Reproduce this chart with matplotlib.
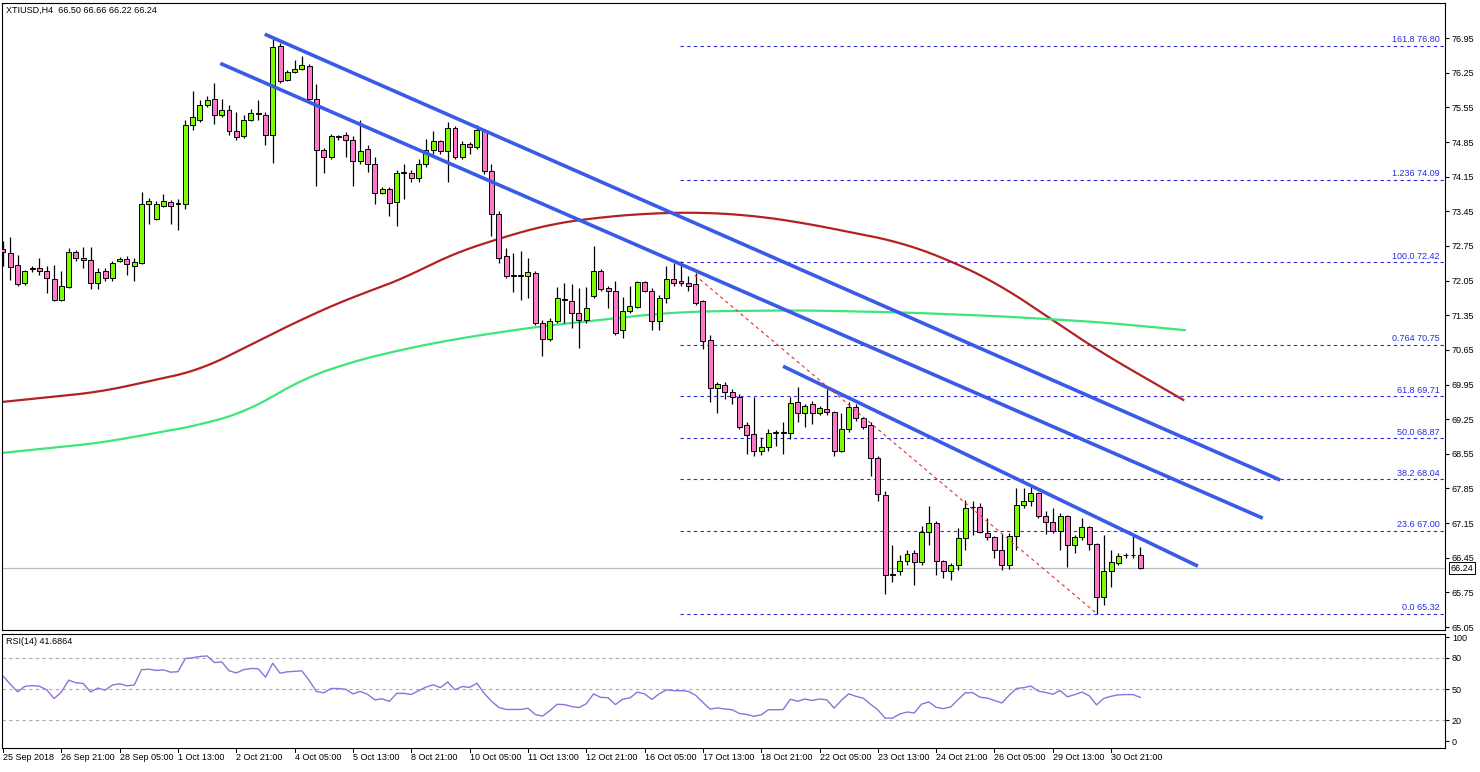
import matplotlib
matplotlib.use("Agg")
import matplotlib.pyplot as plt
import matplotlib.transforms as mtransforms
import numpy as np

plt.rcParams['font.family'] = ['Liberation Sans', 'DejaVu Sans']

# ---- data ----
opens = [72.68,72.6,72.36,72.0,72.28,72.3,72.24,72.08,71.66,71.92,72.63,72.5,72.46,72.0,72.24,72.1,72.44,72.48,72.35,72.4,
         73.6,73.3,73.56,73.64,73.6,73.6,75.2,75.3,75.6,75.72,75.4,75.5,75.07,74.98,75.3,75.42,75.4,75.0,76.8,76.1,
         76.27,76.33,76.38,75.72,74.68,74.55,74.96,75.0,74.9,74.47,74.7,74.4,73.82,73.9,73.63,74.22,74.22,74.12,74.4,74.68,
         74.87,74.67,75.13,74.55,74.82,74.75,75.1,74.27,73.4,72.55,72.14,72.14,72.14,72.2,71.2,70.87,71.23,71.66,71.63,71.4,
         71.25,71.73,72.25,71.9,71.85,71.05,71.43,71.52,72.02,71.85,71.23,71.7,72.08,72.05,72.0,71.98,71.63,70.85,69.88,69.95,
         69.8,69.7,69.13,68.95,68.6,68.68,68.97,68.98,68.98,69.6,69.38,69.55,69.38,69.45,69.4,68.6,69.05,69.5,69.27,69.13,
         68.47,67.72,66.1,66.18,66.38,66.55,66.36,66.98,67.15,66.38,66.18,66.3,66.85,67.47,67.47,66.95,66.87,66.6,66.3,66.88,
         67.52,67.6,67.75,67.3,67.17,67.0,67.3,66.7,66.86,67.07,66.72,65.66,66.18,66.35,66.5,66.5,66.5]
highs = [72.85,72.93,72.57,72.27,72.35,72.5,72.34,72.37,72.25,72.7,72.66,72.73,72.72,72.3,72.3,72.45,72.52,72.55,72.5,73.85,
         73.72,73.65,73.8,73.68,73.7,75.3,75.88,75.7,75.78,76.05,75.72,75.6,75.45,75.4,75.52,75.7,75.45,76.95,76.85,76.3,
         76.5,76.58,76.42,76.02,74.72,75.02,75.0,75.05,74.98,75.3,74.8,74.55,73.95,73.95,74.28,74.4,74.28,74.5,74.92,75.07,
         74.9,75.25,75.18,74.88,74.85,75.2,75.12,74.4,73.45,72.7,72.6,72.65,72.5,72.25,71.25,71.3,71.92,72.0,71.98,71.9,
         71.92,72.75,72.28,71.95,72.05,71.72,71.95,72.05,72.05,71.9,71.75,72.35,72.4,72.45,72.15,72.2,71.65,70.95,70.0,70.0,
         69.85,69.75,69.2,69.7,68.9,69.05,69.03,69.2,69.7,69.9,69.55,69.62,69.52,69.85,69.42,69.38,69.6,69.55,69.3,69.2,
         68.5,67.8,66.7,66.5,66.6,66.6,67.1,67.5,67.2,66.4,66.35,67.05,67.62,67.6,67.55,67.25,66.88,66.92,66.95,67.86,
         67.85,67.9,67.78,67.4,67.45,67.35,67.32,66.9,67.25,67.1,66.75,66.9,66.6,66.55,66.55,66.9,66.66]
lows = [72.35,72.06,71.95,71.97,72.22,72.16,71.8,71.64,71.63,71.9,72.45,72.3,71.88,71.88,72.05,72.05,72.42,72.16,72.04,72.38,
        73.2,73.28,73.54,73.2,73.07,73.5,75.1,75.25,75.55,75.22,75.35,75.0,74.9,74.93,75.28,75.3,74.8,74.43,76.05,76.08,
        76.25,76.3,75.7,73.96,74.22,74.5,74.9,74.55,73.96,74.4,74.25,73.6,73.8,73.36,73.15,73.7,74.05,74.05,74.35,74.6,
        74.6,74.04,74.5,74.5,74.6,74.7,74.2,72.95,72.4,72.1,71.82,71.65,71.7,71.15,70.53,70.83,71.2,71.2,71.1,70.69,
        71.2,71.7,71.85,71.5,70.95,70.9,71.4,71.5,71.82,71.05,71.05,71.6,71.95,71.95,71.85,71.55,70.67,69.6,69.37,69.65,
        69.55,69.05,68.55,68.5,68.53,68.6,68.7,68.55,68.85,69.2,69.1,69.15,69.33,69.33,68.5,68.58,69.0,69.22,69.05,68.1,
        67.6,65.72,65.95,66.1,66.3,65.9,66.3,66.7,66.1,66.05,66.0,66.2,66.6,66.9,66.95,66.8,66.45,66.2,66.22,66.6,
        67.45,67.5,67.25,66.92,66.95,66.6,66.27,66.55,66.8,66.6,65.32,65.5,65.85,66.3,66.45,66.45,66.22]
closes = [72.62,72.32,71.98,72.24,72.28,72.25,72.1,71.66,71.94,72.63,72.5,72.46,72.0,72.22,72.1,72.4,72.48,72.38,72.42,73.6,
          73.66,73.6,73.66,73.56,73.6,75.2,75.35,75.6,75.7,75.4,75.5,75.07,74.95,75.3,75.43,75.42,75.0,76.77,76.08,76.27,
          76.33,76.4,75.72,74.68,74.55,74.97,74.96,74.9,74.47,74.67,74.4,73.82,73.9,73.62,74.22,74.22,74.12,74.4,74.68,74.87,
          74.67,75.13,74.55,74.82,74.75,75.1,74.27,73.4,72.5,72.14,72.14,72.14,72.22,71.2,70.87,71.23,71.7,71.66,71.4,71.25,
          71.5,72.25,71.88,71.84,71.0,71.43,71.53,72.02,71.85,71.23,71.7,72.08,72.0,72.0,71.94,71.6,70.83,69.88,69.97,69.8,
          69.7,69.1,68.93,68.6,68.68,68.98,68.97,68.98,69.58,69.38,69.52,69.38,69.47,69.4,68.6,69.05,69.5,69.27,69.1,68.47,
          67.74,66.1,66.1,66.38,66.52,66.36,66.98,67.15,66.38,66.18,66.3,66.85,67.45,67.47,66.97,66.87,66.6,66.3,66.88,67.52,
          67.6,67.75,67.3,67.17,67.0,67.3,66.7,66.86,67.07,66.72,65.66,66.18,66.36,66.48,66.5,66.5,66.24]

ma_red_idx = [0,13.3,27,40.7,47.6,54.5,61.3,68.2,75,81.9,88.7,95.6,102.5,109.3,116.2,123,129.9,136.8,143.6,150.5,161.9]
ma_red_val = [69.6,69.8,70.24,71.25,71.7,72.06,72.57,72.91,73.19,73.33,73.41,73.43,73.37,73.23,73.03,72.83,72.46,71.96,71.29,70.61,69.64]
ma_green_idx = [0,13.3,27,33.9,40.7,47.6,54.5,61.3,68.2,75,81.9,88.7,95.6,109.3,123,136.8,150.5,162.1]
ma_green_val = [68.57,68.77,69.13,69.43,70.04,70.4,70.65,70.85,71.01,71.15,71.25,71.37,71.43,71.45,71.41,71.33,71.21,71.05]

trend_blue = [((35.9, 77.03), (175.2, 68.02)),
              ((29.8, 76.44), (172.8, 67.25)),
              ((107.0, 70.32), (163.9, 66.28))]
trend_red = ((94.9, 72.16), (149.8, 65.35))

fib_labels = ["161.8", "1.236", "100.0", "0.764", "61.8", "50.0", "38.2", "23.6", "0.0"]
fib_levels = [76.80, 74.09, 72.42, 70.75, 69.71, 68.87, 68.04, 67.00, 65.32]
fib_start = 92.9

price_ticks = [76.95, 76.25, 75.55, 74.85, 74.15, 73.45, 72.75, 72.05, 71.35, 70.65, 69.95, 69.25, 68.55, 67.85, 67.15, 66.45, 65.75, 65.05]
date_labels = ["25 Sep 2018", "26 Sep 21:00", "28 Sep 05:00", "1 Oct 13:00", "2 Oct 21:00", "4 Oct 05:00", "5 Oct 13:00",
               "8 Oct 21:00", "10 Oct 05:00", "11 Oct 13:00", "12 Oct 21:00", "16 Oct 05:00", "17 Oct 13:00", "18 Oct 21:00",
               "22 Oct 05:00", "23 Oct 13:00", "24 Oct 21:00", "26 Oct 05:00", "29 Oct 13:00", "30 Oct 21:00"]
bars_per_label = 8
last_price = 66.24
rsi_seed_gain, rsi_seed_loss = 0.10, 0.06   # Wilder averages before the visible window

# ---- RSI(14) from closes ----
c = np.array(closes)
d = np.diff(c)
gain = np.where(d > 0, d, 0.0); loss = np.where(d < 0, -d, 0.0)
ag, al = rsi_seed_gain, rsi_seed_loss
rsi = [100 - 100 / (1 + ag / al)]
for i in range(len(d)):
    ag = (ag * 13 + gain[i]) / 14; al = (al * 13 + loss[i]) / 14
    rsi.append(100 - 100 / (1 + ag / max(al, 1e-9)))
rsi = np.array(rsi)

def smooth_curve(xs, ys, k=9):
    gx = np.linspace(xs[0], xs[-1], 400)
    gy = np.interp(gx, xs, ys)
    pad = k
    gyp = np.concatenate([np.full(pad, gy[0]) + (gy[0] - gy[pad:0:-1]) * 0 + (gy[0]-gy[1:pad+1][::-1]) + gy[0] - gy[0], gy,
                          2*gy[-1] - gy[-2:-pad-2:-1]])
    ker = np.ones(2*k+1) / (2*k+1)
    sm = np.convolve(gyp, ker, mode="same")[pad:-pad]
    return gx, sm

# ---- figure ----
W, H = 1480, 772
fig = plt.figure(figsize=(W/100, H/100), dpi=100)
fig.patch.set_facecolor("white")
n = len(closes)
xmin, xmax = -0.14, 197.8
ax = fig.add_axes([2/W, 1-630/H, 1443/W, 627/H])
axr = fig.add_axes([2/W, 1-748/H, 1443/W, 114/H])
for a in (ax, axr):
    a.set_xlim(xmin, xmax)
    a.yaxis.tick_right()
    a.tick_params(axis='y', labelsize=6.5, length=3, pad=2, colors='black')
    a.set_xticks([])
    for s in a.spines.values():
        s.set_linewidth(0.8)
ax.set_ylim(64.99, 77.66)
ax.set_yticks(price_ticks)
ax.set_yticklabels([f"{v:.2f}" for v in price_ticks])

ax.axhline(last_price, color="#BBBBBB", lw=0.9, zorder=1)

for lab, lv in zip(fib_labels, fib_levels):
    ax.hlines(lv, fib_start, xmax, colors="#2A2AE0", linestyles=(0, (3, 3)), lw=0.8, zorder=1)
    ax.text(197.1, lv + 0.03, f"{lab} {lv:.2f}", ha="right", va="bottom", fontsize=6.5, color="#2A2AE0")

gx, gy = smooth_curve(ma_red_idx, ma_red_val)
ax.plot(gx, gy, color="#B22222", lw=1.6, zorder=2)
gx, gy = smooth_curve(ma_green_idx, ma_green_val)
ax.plot(gx, gy, color="#3CE67A", lw=1.6, zorder=2)

x = np.arange(n)
o = np.array(opens); hh = np.array(highs); ll = np.array(lows)
ax.vlines(x, ll, hh, color="black", lw=0.9, zorder=3)
up = c >= o
bw = 0.68
bottoms = np.minimum(o, c); heights = np.maximum(np.abs(c - o), 0.015)
ax.bar(x[up], heights[up], bw, bottoms[up], color="#7CFC00", edgecolor="black", lw=0.7, zorder=4)
ax.bar(x[~up], heights[~up], bw, bottoms[~up], color="#FF77C8", edgecolor="black", lw=0.7, zorder=4)

for (p1, p2) in trend_blue:
    ax.plot([p1[0], p2[0]], [p1[1], p2[1]], color="#3A5BE8", lw=2.6, zorder=5, solid_capstyle="butt")
ax.plot([trend_red[0][0], trend_red[1][0]], [trend_red[0][1], trend_red[1][1]], color="#E03030",
        lw=0.8, ls=(0, (3, 3)), zorder=5)

tr = mtransforms.blended_transform_factory(ax.transAxes, ax.transData)
ax.text(1.004, last_price, f"{last_price:.2f}", transform=tr, ha="left", va="center", fontsize=6.5,
        bbox=dict(boxstyle="square,pad=0.2", fc="white", ec="black", lw=0.7), zorder=6, clip_on=False)

ax.text(0.003, 0.995, "XTIUSD,H4  66.50 66.66 66.22 66.24", transform=ax.transAxes, ha="left", va="top", fontsize=6.5)

axr.set_ylim(-6.7, 102.9)
axr.set_yticks([100, 80, 50, 20, 0])
axr.set_yticklabels(["100", "80", "50", "20", "0"])
for lv in (80, 50, 20):
    axr.axhline(lv, color="#AAAAAA", lw=0.8, ls=(0, (3, 3)))
axr.plot(x, rsi, color="#9370DB", lw=1.0)
axr.text(0.003, 0.97, "RSI(14) 41.6864", transform=axr.transAxes, ha="left", va="top", fontsize=6.5)

for i, lab in enumerate(date_labels):
    bi = i * bars_per_label
    fx = (2 + (bi - xmin) / (xmax - xmin) * 1443) / W
    fig.text(fx, 1 - 757/H, lab, ha="left", va="center", fontsize=6.5)
    fig.add_artist(plt.Line2D([fx, fx], [1-748/H, 1-752/H], color="black", lw=0.7))

fig.savefig("out.png", dpi=100, facecolor="white")
